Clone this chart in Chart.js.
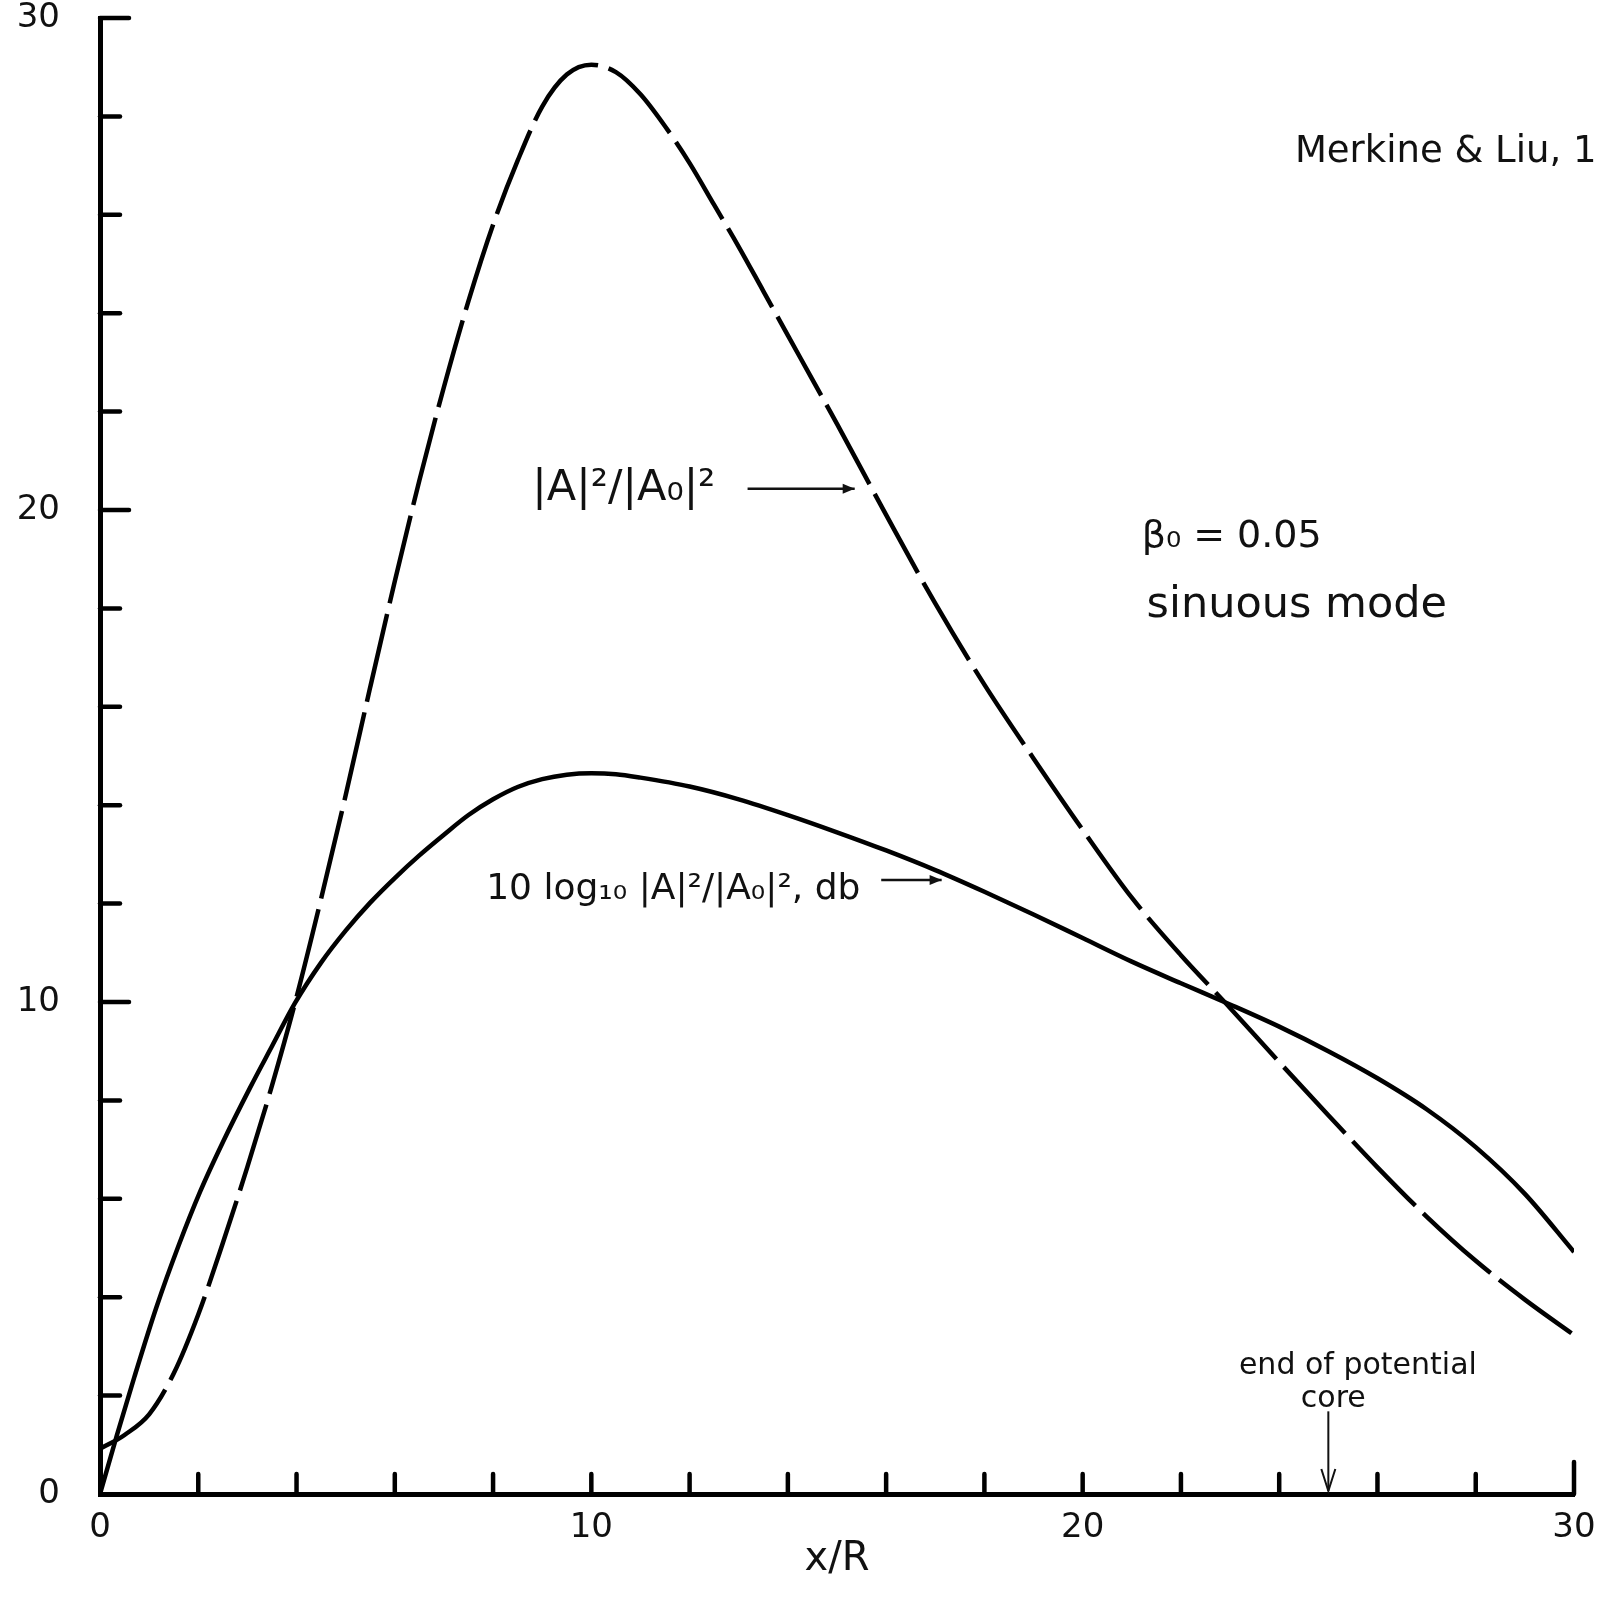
<!DOCTYPE html>
<html>
<head>
<meta charset="utf-8">
<script src="https://cdn.jsdelivr.net/npm/chart.js@4.4.1/dist/chart.umd.min.js"></script>
<style>
  html, body { margin: 0; padding: 0; background: #ffffff; }
  #wrap { width: 1604px; height: 1597px; }
</style>
</head>
<body>
<div id="wrap"><canvas id="c" width="1604" height="1597"></canvas></div>
<script>
// ---- data ----
const ratioX = [0, 0.34, 0.5, 1.0, 1.5, 2.0, 2.5, 3.0, 3.5, 4.0, 4.5, 5.0, 5.5, 6.0, 6.5, 7.0, 7.5, 8.0, 8.5, 9.0, 9.5, 10.0, 10.5, 11.0, 11.5, 12.0, 12.5, 13.0, 13.5, 14.0, 14.5, 15.0, 16.0, 17.0, 18.0, 19.0, 20.0, 21.0, 22.0, 23.0, 24.0, 25.0, 26.0, 27.0, 28.0, 29.0, 30.0];
const ratioY = [0.92, 1.1, 1.2, 1.62, 2.45, 3.65, 5.1, 6.65, 8.3, 10.1, 12.1, 14.2, 16.4, 18.55, 20.6, 22.5, 24.25, 25.8, 27.1, 28.2, 28.85, 29.05, 28.9, 28.45, 27.8, 27.05, 26.2, 25.35, 24.45, 23.55, 22.65, 21.75, 19.9, 18.1, 16.45, 14.95, 13.5, 12.12, 10.95, 9.88, 8.78, 7.7, 6.64, 5.64, 4.74, 3.95, 3.23];
const dbX = [0, 0.34, 0.7, 1.15, 1.6, 2.04, 2.5, 3.05, 3.5, 3.97, 4.5, 5.0, 5.5, 6.0, 6.5, 7.0, 7.5, 8.0, 8.5, 9.0, 9.5, 10.0, 10.5, 11.0, 12.0, 13.0, 14.0, 15.0, 16.0, 17.0, 18.0, 19.0, 20.0, 21.0, 22.0, 23.0, 24.0, 25.0, 26.0, 27.0, 28.0, 29.0, 30.0];
const dbY = [0, 1.18, 2.38, 3.8, 5.05, 6.15, 7.15, 8.25, 9.1, 9.98, 10.8, 11.45, 12.02, 12.52, 12.98, 13.4, 13.8, 14.12, 14.37, 14.53, 14.62, 14.65, 14.63, 14.56, 14.38, 14.12, 13.8, 13.45, 13.08, 12.68, 12.24, 11.78, 11.3, 10.82, 10.38, 9.95, 9.5, 9.0, 8.45, 7.82, 7.05, 6.1, 4.92];
const xTickLabels = [0, 10, 20, 30];
const yTickLabels = [0, 10, 20, 30];
const coreX = [25];

const toPts = (xs, ys) => xs.map((v, i) => ({x: v, y: ys[i]}));

// ---- annotations (positions in data units) ----
const notes = [
  {text: '|A|\u00B2/|A\u2080|\u00B2', x: 8.8, y: 20.43, size: 43},
  {text: '10 log\u2081\u2080 |A|\u00B2/|A\u2080|\u00B2, db', x: 7.86, y: 12.28, size: 36},
  {text: '\u03B2\u2080 = 0.05', x: 21.2, y: 19.45, size: 38},
  {text: 'sinuous mode', x: 21.3, y: 18.05, size: 43},
  {text: 'Merkine & Liu, 1', x: 24.32, y: 27.26, size: 37},
  {text: 'end of potential', x: 23.18, y: 2.6, size: 30},
  {text: 'core', x: 24.44, y: 1.93, size: 30}
];
const arrows = [
  {x1: 13.18, y1: 20.43, x2: 15.36, y2: 20.43},
  {x1: 15.9, y1: 12.48, x2: 17.13, y2: 12.48}
];

const annotPlugin = {
  id: 'annot',
  afterDatasetsDraw(chart) {
    const {ctx, scales: {x, y}, chartArea} = chart;
    ctx.save();
    ctx.fillStyle = '#111';
    ctx.strokeStyle = '#111';
    ctx.textBaseline = 'middle';
    ctx.textAlign = 'left';
    notes.forEach(n => {
      ctx.font = n.size + 'px "DejaVu Sans"';
      ctx.fillText(n.text, x.getPixelForValue(n.x), y.getPixelForValue(n.y));
    });
    const head = (px, py, dx, dy) => {
      const L = 12, W = 5;
      ctx.beginPath();
      ctx.moveTo(px, py);
      ctx.lineTo(px - dx * L - dy * W, py - dy * L + dx * W);
      ctx.lineTo(px - dx * L + dy * W, py - dy * L - dx * W);
      ctx.closePath();
      ctx.fill();
    };
    ctx.lineWidth = 2.5;
    arrows.forEach(a => {
      const x1 = x.getPixelForValue(a.x1), y1 = y.getPixelForValue(a.y1);
      const x2 = x.getPixelForValue(a.x2), y2 = y.getPixelForValue(a.y2);
      ctx.beginPath(); ctx.moveTo(x1, y1); ctx.lineTo(x2, y2); ctx.stroke();
      const d = Math.hypot(x2 - x1, y2 - y1);
      head(x2, y2, (x2 - x1) / d, (y2 - y1) / d);
    });
    // end of potential core arrow
    coreX.forEach(cx => {
      const px = x.getPixelForValue(cx);
      const top = y.getPixelForValue(1.68);
      const bot = chartArea.bottom - 3;
      ctx.lineWidth = 2;
      ctx.beginPath(); ctx.moveTo(px, top); ctx.lineTo(px, bot); ctx.stroke();
      ctx.beginPath(); ctx.moveTo(px - 7, bot - 22); ctx.lineTo(px, bot); ctx.lineTo(px + 7, bot - 22); ctx.stroke();
    });
    ctx.restore();
  }
};

const innerTicks = {
  id: 'innerTicks',
  afterDatasetsDraw(chart) {
    const {ctx, chartArea, scales: {x, y}} = chart;
    ctx.save();
    ctx.strokeStyle = '#000';
    ctx.lineWidth = 4.5;
    ctx.lineCap = 'round';
    const line = (a, b, c, d) => { ctx.beginPath(); ctx.moveTo(a, b); ctx.lineTo(c, d); ctx.stroke(); };
    x.ticks.forEach(t => {
      if (t.value === 0) return;
      const px = x.getPixelForValue(t.value);
      const len = t.value === 30 ? 32 : 20;
      line(px, chartArea.bottom, px, chartArea.bottom - len);
    });
    y.ticks.forEach(t => {
      if (t.value === 0) return;
      const py = y.getPixelForValue(t.value);
      const len = t.value % 10 === 0 ? 29 : 20;
      line(chartArea.left, py, chartArea.left + len, py);
    });
    ctx.restore();
  }
};

new Chart(document.getElementById('c'), {
  type: 'line',
  data: {
    datasets: [
      {
        label: '|A|\u00B2/|A\u2080|\u00B2',
        data: toPts(ratioX, ratioY),
        borderColor: '#000',
        borderWidth: 4.5,
        borderDash: [90, 11],
        pointRadius: 0,
        cubicInterpolationMode: 'monotone',
        fill: false
      },
      {
        label: '10 log\u2081\u2080 |A|\u00B2/|A\u2080|\u00B2, db',
        data: toPts(dbX, dbY),
        borderColor: '#000',
        borderWidth: 4.5,
        pointRadius: 0,
        cubicInterpolationMode: 'monotone',
        fill: false
      }
    ]
  },
  options: {
    responsive: false,
    animation: false,
    devicePixelRatio: 1,
    layout: { padding: { top: 18, right: 30, left: 0, bottom: 0 } },
    plugins: { legend: { display: false }, tooltip: { enabled: false } },
    scales: {
      x: {
        type: 'linear',
        min: 0, max: 30,
        grid: { display: false, drawTicks: false },
        border: { display: true, color: '#000', width: 5 },
        ticks: {
          stepSize: 2,
          padding: 14,
          color: '#111',
          font: { family: '"DejaVu Sans"', size: 34 },
          maxRotation: 0,
          autoSkip: false,
          callback: v => xTickLabels.includes(v) ? String(v) : ''
        },
        title: {
          display: true,
          text: 'x/R',
          color: '#111',
          font: { family: '"DejaVu Sans"', size: 40 },
          padding: { top: 0, bottom: 13 }
        },
        afterFit: s => { s.height = 103; s.paddingLeft = 0; s.paddingRight = 0; }
      },
      y: {
        type: 'linear',
        min: 0, max: 30,
        grid: { display: false, drawTicks: false },
        border: { display: true, color: '#000', width: 5 },
        ticks: {
          stepSize: 2,
          padding: 40,
          color: '#111',
          font: { family: '"DejaVu Sans"', size: 34 },
          autoSkip: false,
          callback: v => yTickLabels.includes(v) ? String(v) : ''
        },
        afterFit: s => { s.width = 100; s.paddingTop = 0; s.paddingBottom = 0; }
      }
    }
  },
  plugins: [innerTicks, annotPlugin]
});
</script>
</body>
</html>
